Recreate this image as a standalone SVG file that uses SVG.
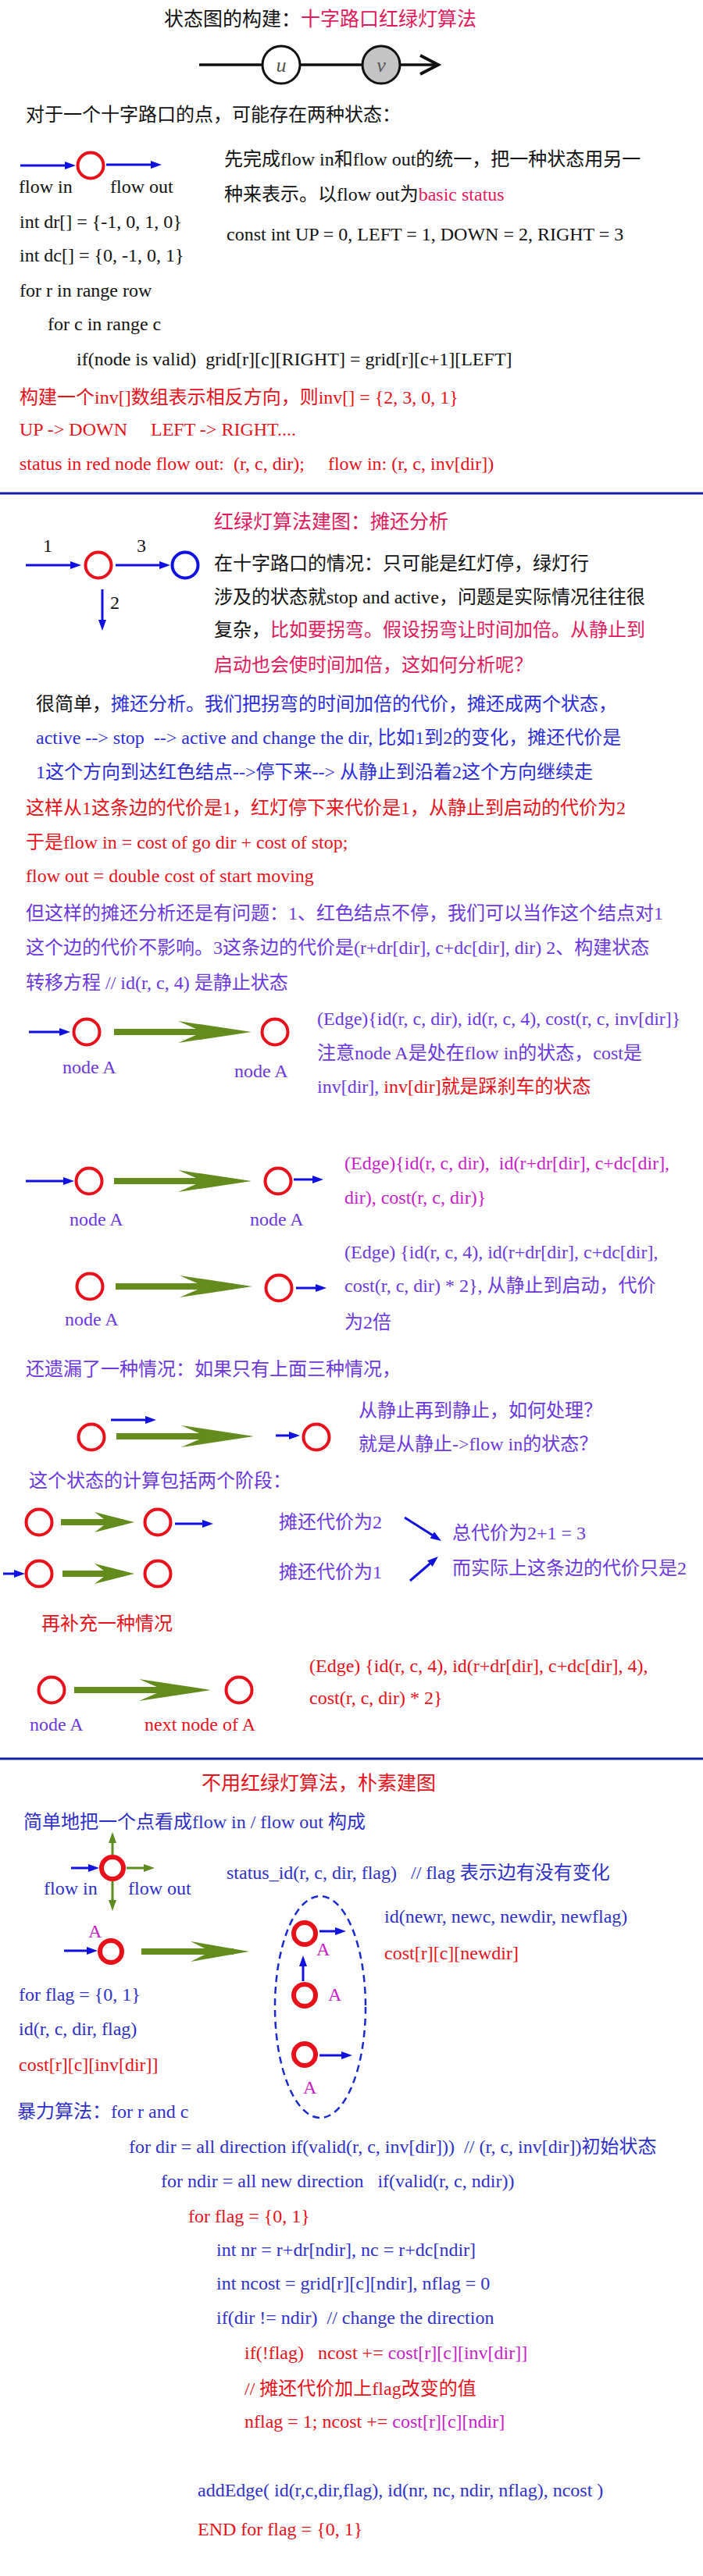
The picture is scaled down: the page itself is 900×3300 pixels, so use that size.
<svg xmlns="http://www.w3.org/2000/svg" width="900" height="3300" viewBox="0 0 900 3300">
<style>
text{font-family:"Liberation Serif","Noto Sans CJK SC",serif;font-size:24px;white-space:pre;fill:#111}
.t{font-size:25px}
.pk{fill:#e2195c}
.r{fill:#e8101a}
.b{fill:#2c2cd8}
.p{fill:#6b38e0}
.m{fill:#c820c8}
.nb{fill:#3030c8}
.rc{fill:none;stroke:#e8101a;stroke-width:4}
.rt{fill:none;stroke:#e8101a;stroke-width:6}
.bl{stroke:#1010e0;stroke-width:3;fill:none}
.gl{stroke:#5f8c1e;stroke-width:3;fill:none}
.gs{fill:#638c1c}
.sep{stroke:#1020a8;stroke-width:3}
</style>
<defs>
<marker id="ab" viewBox="0 0 14 10" refX="4" refY="5" markerWidth="14" markerHeight="10" markerUnits="userSpaceOnUse" orient="auto"><path d="M0,0 L14,5 L0,10 z" fill="#1010e0"/></marker>
<marker id="ag" viewBox="0 0 14 10" refX="4" refY="5" markerWidth="14" markerHeight="10" markerUnits="userSpaceOnUse" orient="auto"><path d="M0,0 L14,5 L0,10 z" fill="#5f8c1e"/></marker>
</defs>
<rect width="900" height="3300" fill="#fff"/>

<!-- Section 1 -->
<text class="t" x="210" y="33">状态图的构建：<tspan class="pk">十字路口红绿灯算法</tspan></text>
<g id="uv-edge">
<line x1="255" y1="83" x2="559" y2="83" stroke="#111" stroke-width="3.5"/>
<polyline points="538,71 561,83 538,95" fill="none" stroke="#111" stroke-width="4"/>
</g>
<g id="node-u"><circle cx="360" cy="83" r="24" fill="#fff" stroke="#111" stroke-width="3"/><text x="360" y="92" text-anchor="middle" font-style="italic" style="font-size:26px;fill:#555">u</text></g>
<g id="node-v"><circle cx="488" cy="83" r="24" fill="#c4c4c4" stroke="#111" stroke-width="3"/><text x="488" y="92" text-anchor="middle" font-style="italic" style="font-size:26px;fill:#555">v</text></g>

<text x="33" y="155">对于一个十字路口的点，可能存在两种状态：</text>
<g id="node-flow"><circle class="rc" cx="116" cy="212" r="16.5"/></g>
<text x="24" y="247">flow in</text>
<text x="141" y="247">flow out</text>
<text x="287" y="212">先完成flow in和flow out的统一，把一种状态用另一</text>
<text x="287" y="257">种来表示。以flow out为<tspan class="pk">basic status</tspan></text>
<text x="25" y="292">int dr[] = {-1, 0, 1, 0}</text>
<text x="290" y="308">const int UP = 0, LEFT = 1, DOWN = 2, RIGHT = 3</text>
<text x="25" y="335">int dc[] = {0, -1, 0, 1}</text>
<text x="25" y="380">for r in range row</text>
<text x="61" y="423">for c in range c</text>
<text x="98" y="468">if(node is valid)  grid[r][c][RIGHT] = grid[r][c+1][LEFT]</text>
<text class="r" x="25" y="517">构建一个inv[]数组表示相反方向，则inv[] = {2, 3, 0, 1}</text>
<text class="r" x="25" y="558">UP -&gt; DOWN     LEFT -&gt; RIGHT....</text>
<text class="r" x="25" y="602">status in red node flow out:  (r, c, dir);     flow in: (r, c, inv[dir])</text>
<line class="sep" x1="0" y1="632" x2="900" y2="632"/>

<!-- Section 2 -->
<text class="t pk" x="274" y="677">红绿灯算法建图：摊还分析</text>
<g id="node-red-s2"><circle class="rc" cx="126" cy="724" r="16.5"/></g>
<g id="node-blue-s2"><circle cx="237" cy="724" r="16.5" fill="none" stroke="#1010e0" stroke-width="4"/></g>
<text x="55" y="707">1</text>
<text x="175" y="707">3</text>
<text x="141" y="780">2</text>
<text x="274" y="730">在十字路口的情况：只可能是红灯停，绿灯行</text>
<text x="274" y="773">涉及的状态就stop and active，问题是实际情况往往很</text>
<text x="274" y="815">复杂，<tspan class="pk">比如要拐弯。假设拐弯让时间加倍。从静止到</tspan></text>
<text class="pk" x="274" y="860">启动也会使时间加倍，这如何分析呢？</text>
<text x="46" y="910">很简单，<tspan class="b">摊还分析。我们把拐弯的时间加倍的代价，摊还成两个状态，</tspan></text>
<text class="b" x="46" y="953">active --&gt; stop  --&gt; active and change the dir, 比如1到2的变化，摊还代价是</text>
<text class="b" x="46" y="997">1这个方向到达红色结点--&gt;停下来--&gt; 从静止到沿着2这个方向继续走</text>
<text class="r" x="33" y="1043">这样从1这条边的代价是1，红灯停下来代价是1，从静止到启动的代价为2</text>
<text class="r" x="33" y="1087">于是flow in = cost of go dir + cost of stop;</text>
<text class="r" x="33" y="1130">flow out = double cost of start moving</text>
<text class="p" x="33" y="1178">但这样的摊还分析还是有问题：1、红色结点不停，我们可以当作这个结点对1</text>
<text class="p" x="33" y="1222">这个边的代价不影响。3这条边的代价是(r+dr[dir], c+dc[dir], dir) 2、构建状态</text>
<text class="p" x="33" y="1267">转移方程 // id(r, c, 4) 是静止状态</text>

<!-- diagram 1 -->
<g id="d1-nodeA"><circle class="rc" cx="111" cy="1322" r="16.5"/><text class="p" x="80" y="1375">node A</text></g>
<g id="d1-nodeA2"><circle class="rc" cx="352" cy="1322" r="16.5"/><text class="p" x="300" y="1380">node A</text></g>
<text class="p" x="406" y="1313">(Edge){id(r, c, dir), id(r, c, 4), cost(r, c, inv[dir]}</text>
<text class="p" x="406" y="1357">注意node A是处在flow in的状态，cost是</text>
<text class="p" x="406" y="1400">inv[dir], <tspan class="r">inv[dir]就是踩刹车的状态</tspan></text>

<!-- diagram 2 -->
<g id="d2-nodeA"><circle class="rc" cx="114" cy="1513" r="16.5"/><text class="p" x="89" y="1570">node A</text></g>
<g id="d2-nodeA2"><circle class="rc" cx="356" cy="1513" r="16.5"/><text class="p" x="320" y="1570">node A</text></g>
<text class="m" x="441" y="1498">(Edge){id(r, c, dir),  id(r+dr[dir], c+dc[dir],</text>
<text class="m" x="441" y="1542">dir), cost(r, c, dir)}</text>

<!-- diagram 3 -->
<g id="d3-nodeA"><circle class="rc" cx="115" cy="1648" r="16.5"/><text class="p" x="83" y="1698">node A</text></g>
<g id="d3-node2"><circle class="rc" cx="357" cy="1650" r="16.5"/></g>
<text class="p" x="441" y="1612">(Edge) {id(r, c, 4), id(r+dr[dir], c+dc[dir],</text>
<text class="p" x="441" y="1655">cost(r, c, dir) * 2}, 从静止到启动，代价</text>
<text class="p" x="441" y="1702">为2倍</text>

<text class="p" x="33" y="1762">还遗漏了一种情况：如果只有上面三种情况，</text>
<!-- diagram 4 -->
<g id="d4-node1"><circle class="rc" cx="117" cy="1841" r="16.5"/></g>
<g id="d4-node2"><circle class="rc" cx="405" cy="1841" r="16.5"/></g>
<text class="p" x="459" y="1815">从静止再到静止，如何处理？</text>
<text class="p" x="459" y="1858">就是从静止-&gt;flow in的状态？</text>
<text class="p" x="37" y="1905">这个状态的计算包括两个阶段：</text>

<g id="rowA-node1"><circle class="rc" cx="50" cy="1950" r="16.5"/></g>
<g id="rowA-node2"><circle class="rc" cx="202" cy="1950" r="16.5"/></g>
<g id="rowB-node1"><circle class="rc" cx="50" cy="2016" r="16.5"/></g>
<g id="rowB-node2"><circle class="rc" cx="202" cy="2016" r="16.5"/></g>
<text class="p" x="357" y="1958">摊还代价为2</text>
<text class="p" x="357" y="2022">摊还代价为1</text>
<text class="p" x="579" y="1972">总代价为2+1 = 3</text>
<text class="p" x="579" y="2017">而实际上这条边的代价只是2</text>

<text class="r" x="53" y="2088">再补充一种情况</text>
<g id="d5-nodeA"><circle class="rc" cx="66" cy="2165" r="16.5"/><text class="p" x="38" y="2217">node A</text></g>
<g id="d5-next"><circle class="rc" cx="306" cy="2165" r="16.5"/><text class="r" x="185" y="2217">next node of A</text></g>
<text class="r" x="396" y="2142">(Edge) {id(r, c, 4), id(r+dr[dir], c+dc[dir], 4),</text>
<text class="r" x="396" y="2183">cost(r, c, dir) * 2}</text>
<line class="sep" x1="0" y1="2253" x2="900" y2="2253"/>

<!-- Section 3 -->
<text class="t r" x="258" y="2293">不用红绿灯算法，朴素建图</text>
<text class="nb" x="30" y="2342">简单地把一个点看成flow in / flow out 构成</text>
<g id="cross-node"><circle class="rt" cx="144" cy="2393" r="14"/></g>
<text class="nb" x="56" y="2427">flow in</text>
<text class="nb" x="164" y="2427">flow out</text>
<text class="nb" x="290" y="2407">status_id(r, c, dir, flag)   // flag 表示边有没有变化</text>

<g id="left-A"><text class="m" x="113" y="2482">A</text><circle class="rt" cx="142" cy="2500" r="14"/></g>
<ellipse id="group-ellipse" cx="410" cy="2571" rx="58" ry="142" fill="none" stroke="#1a2ad0" stroke-width="2.5" stroke-dasharray="9,6"/>
<g id="ell-A1"><circle class="rt" cx="390" cy="2477" r="14"/><text class="m" x="405" y="2505">A</text></g>
<g id="ell-A2"><circle class="rt" cx="390" cy="2556" r="14"/><text class="m" x="420" y="2563">A</text></g>
<g id="ell-A3"><circle class="rt" cx="390" cy="2632" r="14"/><text class="m" x="388" y="2682">A</text></g>
<text class="nb" x="492" y="2463">id(newr, newc, newdir, newflag)</text>
<text class="r" x="492" y="2510">cost[r][c][newdir]</text>
<text class="nb" x="24" y="2563">for flag = {0, 1}</text>
<text class="nb" x="24" y="2607">id(r, c, dir, flag)</text>
<text class="r" x="24" y="2653">cost[r][c][inv[dir]]</text>

<text class="nb" x="22" y="2713">暴力算法：for r and c</text>
<text class="nb" x="165" y="2758">for dir = all direction if(valid(r, c, inv[dir]))  // (r, c, inv[dir])初始状态</text>
<text class="nb" x="206" y="2802">for ndir = all new direction   if(valid(r, c, ndir))</text>
<text class="r" x="241" y="2847">for flag = {0, 1}</text>
<text class="nb" x="277" y="2890">int nr = r+dr[ndir], nc = r+dc[ndir]</text>
<text class="nb" x="277" y="2933">int ncost = grid[r][c][ndir], nflag = 0</text>
<text class="nb" x="277" y="2977">if(dir != ndir)  // change the direction</text>
<text class="r" x="313" y="3022">if(!flag)   ncost += <tspan class="m">cost[r][c][inv[dir]]</tspan></text>
<text class="r" x="313" y="3068">// 摊还代价加上flag改变的值</text>
<text class="r" x="313" y="3110">nflag = 1; ncost += <tspan class="m">cost[r][c][ndir]</tspan></text>
<text class="nb" x="253" y="3198">addEdge( id(r,c,dir,flag), id(nr, nc, ndir, nflag), ncost )</text>
<text class="r" x="253" y="3248">END for flag = {0, 1}</text>

<!-- connectors -->
<g id="connectors">
<line class="bl" x1="26" y1="212" x2="87" y2="212" marker-end="url(#ab)"/>
<line class="bl" x1="136" y1="211" x2="197" y2="211" marker-end="url(#ab)"/>
<line class="bl" x1="33" y1="724" x2="94" y2="724" marker-end="url(#ab)"/>
<line class="bl" x1="148" y1="724" x2="208" y2="724" marker-end="url(#ab)"/>
<line class="bl" x1="131" y1="755" x2="131" y2="798" marker-end="url(#ab)"/>
<line class="bl" x1="37" y1="1322" x2="80" y2="1322" marker-end="url(#ab)"/>
<line class="bl" x1="33" y1="1513" x2="85" y2="1513" marker-end="url(#ab)"/>
<line class="bl" x1="376" y1="1511" x2="404" y2="1511" marker-end="url(#ab)"/>
<line class="bl" x1="379" y1="1650" x2="408" y2="1650" marker-end="url(#ab)"/>
<line class="bl" x1="142" y1="1819" x2="190" y2="1819" marker-end="url(#ab)"/>
<line class="bl" x1="353" y1="1839" x2="374" y2="1839" marker-end="url(#ab)"/>
<line class="bl" x1="224" y1="1952" x2="263" y2="1952" marker-end="url(#ab)"/>
<line class="bl" x1="4" y1="2016" x2="22" y2="2016" marker-end="url(#ab)"/>
<line class="bl" x1="518" y1="1944" x2="556.6" y2="1968.6" stroke-width="2.5" marker-end="url(#ab)"/>
<line class="bl" x1="525" y1="2025" x2="553.4" y2="2000.5" stroke-width="2.5" marker-end="url(#ab)"/>
<line class="bl" x1="91" y1="2393" x2="117" y2="2393" marker-end="url(#ab)"/>
<line class="bl" x1="82" y1="2499" x2="115" y2="2499" marker-end="url(#ab)"/>
<line class="bl" x1="409" y1="2474" x2="433" y2="2474" marker-end="url(#ab)"/>
<line class="bl" x1="388" y1="2538" x2="388" y2="2515" marker-end="url(#ab)"/>
<line class="bl" x1="409" y1="2633" x2="441" y2="2633" marker-end="url(#ab)"/>
<line class="gl" x1="144" y1="2376" x2="144" y2="2357" marker-end="url(#ag)"/>
<line class="gl" x1="144" y1="2410" x2="144" y2="2438" marker-end="url(#ag)"/>
<line class="gl" x1="162" y1="2393" x2="188" y2="2393" marker-end="url(#ag)"/>
<!-- green transition arrows -->
<g class="gs">
<rect x="146" y="1318" width="150" height="8"/><polygon points="228,1308 322,1322 228,1336 260,1322"/>
<rect x="146" y="1509" width="150" height="8"/><polygon points="228,1499 322,1513 228,1527 260,1513"/>
<rect x="148" y="1644" width="150" height="8"/><polygon points="230,1634 323,1648 230,1662 262,1648"/>
<rect x="149" y="1836" width="150" height="8"/><polygon points="232,1826 325,1840 232,1854 264,1840"/>
<rect x="78" y="1946" width="80" height="8"/><polygon points="121,1937 172,1950 121,1963 138,1950"/>
<rect x="80" y="2012" width="78" height="8"/><polygon points="121,2003 172,2016 121,2029 138,2016"/>
<rect x="95" y="2161" width="150" height="8"/><polygon points="178,2151 270,2165 178,2179 210,2165"/>
<rect x="181" y="2496" width="118" height="8"/><polygon points="244,2487 319,2500 244,2513 270,2500"/>
</g>
</g>
</svg>
